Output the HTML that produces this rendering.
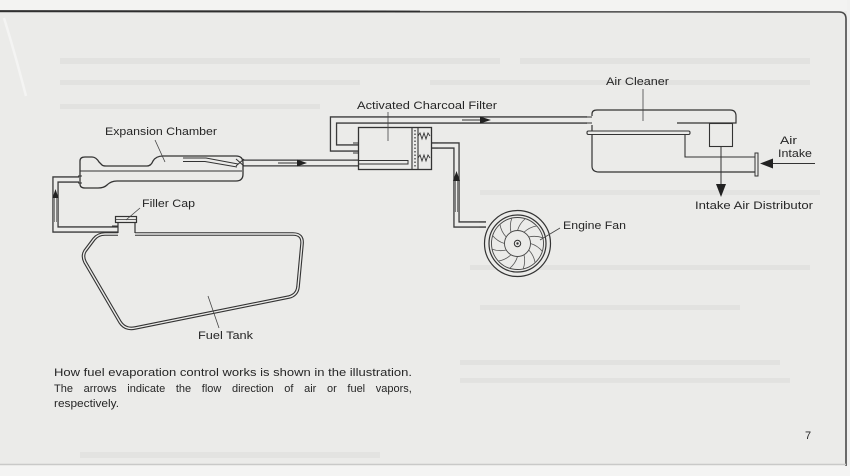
<!DOCTYPE html>
<html><head><meta charset="utf-8">
<style>
html,body{margin:0;padding:0;background:#ebebe9;}
svg{display:block;}
text{font-family:"Liberation Sans",Arial,sans-serif;fill:#262626;}
</style></head>
<body>
<svg width="850" height="476" viewBox="0 0 850 476" xmlns="http://www.w3.org/2000/svg">
<!-- paper -->
<rect x="0" y="0" width="850" height="476" fill="#ebebe9"/>
<rect x="0" y="0" width="850" height="11" fill="#f3f3f2"/>
<rect x="847" y="0" width="3" height="476" fill="#f1f1f0"/>
<rect x="0" y="465" width="850" height="11" fill="#f4f4f3"/>
<!-- faint show-through bands -->
<g fill="#000" opacity="0.03">
<rect x="60" y="58" width="440" height="6"/>
<rect x="520" y="58" width="290" height="6"/>
<rect x="60" y="80" width="300" height="5"/>
<rect x="430" y="80" width="380" height="5"/>
<rect x="60" y="104" width="260" height="5"/>
<rect x="480" y="190" width="340" height="5"/>
<rect x="470" y="265" width="340" height="5"/>
<rect x="480" y="305" width="260" height="5"/>
<rect x="460" y="360" width="320" height="5"/>
<rect x="460" y="378" width="330" height="5"/>
<rect x="80" y="452" width="300" height="6"/>
</g>
<path d="M4,18 Q14,50 26,96" stroke="#f4f4f3" stroke-width="2.5" fill="none"/>
<!-- page edges -->
<path d="M0,11.5 L839,12 Q846,12 846,19 L846,466" stroke="#4a4a4a" stroke-width="1.6" fill="none"/>
<path d="M0,11 L420,11.5" stroke="#2e2e2e" stroke-width="1.8"/>
<path d="M0,464.5 L846,464.5" stroke="#c9c9c8" stroke-width="1.6"/>

<g stroke-linecap="butt" stroke-linejoin="miter" fill="none">
<!-- left pipe chamber to filler -->
<path d="M79,179.5 L55.5,179.5 L55.5,229.5 L118,229.5" stroke="#3a3a3a" stroke-width="6.4"/>
<path d="M79,179.5 L55.5,179.5 L55.5,229.5 L118,229.5" stroke="#ebebe9" stroke-width="3.8"/>
<!-- chamber to filter -->
<path d="M242,163 L359,163" stroke="#3a3a3a" stroke-width="7"/>
<path d="M242,163 L359,163" stroke="#ebebe9" stroke-width="4.4"/>
<!-- top loop -->
<path d="M359,148 L333.5,148 L333.5,120 L587,120" stroke="#3a3a3a" stroke-width="7.4"/>
<path d="M359,148 L333.5,148 L333.5,120 L587,120" stroke="#ebebe9" stroke-width="4.8"/>
<!-- right pipe to fan -->
<path d="M431,145.5 L456.5,145.5 L456.5,224.5 L486,224.5" stroke="#3a3a3a" stroke-width="6.4"/>
<path d="M431,145.5 L456.5,145.5 L456.5,224.5 L486,224.5" stroke="#ebebe9" stroke-width="3.8"/>

<!-- expansion chamber -->
<path d="M80,177 L80,161 Q80,157 85,157 L92,157 Q96,157 99,162 L102,165 Q103,166 106,166 L147,166 Q151,166 153,161 Q156,156 163,156 L236,156 Q243,156 243,163 L243,174 Q243,181 236,181 L117,181 Q111,181 107,185 Q104,188 98,188 L85,188 Q80,188 80,184 Z" stroke="#333" stroke-width="1.3" fill="#ebebe9"/>
<path d="M80,171 L242,171" stroke="#333" stroke-width="1.1"/>
<path d="M78,176 L82,176 M78,183 L82,183" stroke="#333" stroke-width="1.1"/>
<path d="M183,158 L206,158 L238,164 M183,161.5 L205,161.5 L237,167" stroke="#333" stroke-width="1"/>
<path d="M236,159 L244,166 M236,166 L244,159" stroke="#333" stroke-width="1"/>

<!-- filler cap and neck -->
<rect x="115.5" y="216.5" width="21" height="6" stroke="#333" stroke-width="1.2" fill="#ebebe9"/>
<path d="M116,219.5 L136,219.5" stroke="#333" stroke-width="0.8"/>
<path d="M118,223 L118,233 M135,223 L135,233" stroke="#333" stroke-width="1.2"/>
<path d="M112,226 L118,226" stroke="#333" stroke-width="1"/>

<!-- fuel tank -->
<path d="M118,234 L105,234 Q98,234 94,239 L85,251 Q82,256 85,262 L120,322 Q125,330 135,328 L289,297 Q297,295 298,287 L302,244 Q303,234 293,234 L135,234" stroke="#333" stroke-width="3.6"/>
<path d="M118,234 L105,234 Q98,234 94,239 L85,251 Q82,256 85,262 L120,322 Q125,330 135,328 L289,297 Q297,295 298,287 L302,244 Q303,234 293,234 L135,234" stroke="#ebebe9" stroke-width="1.4"/>

<!-- charcoal filter -->
<rect x="358.5" y="127.5" width="73" height="42" stroke="#333" stroke-width="1.3" fill="#ebebe9"/>
<path d="M412,128 L412,169 M418,128 L418,169" stroke="#333" stroke-width="1.1"/>
<path d="M415,130 L415,168" stroke="#555" stroke-width="1.5" stroke-dasharray="1.5 2"/>
<path d="M418,136 L420,133 L422,139 L424,133 L426,139 L428,133 L430,136" stroke="#333" stroke-width="0.9"/>
<path d="M418,158 L420,155 L422,161 L424,155 L426,161 L428,155 L430,158" stroke="#333" stroke-width="0.9"/>
<path d="M359,160.5 L408,160.5 L408,164 L359,164" stroke="#333" stroke-width="1"/>
<path d="M353,143 L359,143 M353,153 L359,153 M353,160 L359,160 M353,166 L359,166" stroke="#333" stroke-width="1"/>
<path d="M431,143 L438,143 M431,148 L438,148" stroke="#333" stroke-width="1"/>

<!-- engine fan -->
<circle cx="517.5" cy="243.5" r="33" stroke="#333" stroke-width="1.2" fill="#ebebe9"/>
<circle cx="517.5" cy="243.5" r="28.5" stroke="#333" stroke-width="1.2"/>
<circle cx="517.5" cy="243.5" r="26" stroke="#444" stroke-width="0.9"/>
<circle cx="517.5" cy="243.5" r="13" stroke="#444" stroke-width="0.9"/>
<circle cx="517.5" cy="243.5" r="3.2" stroke="#333" stroke-width="1"/>
<circle cx="517.5" cy="243.5" r="1.2" fill="#333"/>
<g transform="translate(517.5,243.5)" stroke="#555" stroke-width="0.8">
<path d="M13,0 Q20,2 25,8" transform="rotate(0)"/>
<path d="M13,0 Q20,2 25,8" transform="rotate(30)"/>
<path d="M13,0 Q20,2 25,8" transform="rotate(60)"/>
<path d="M13,0 Q20,2 25,8" transform="rotate(90)"/>
<path d="M13,0 Q20,2 25,8" transform="rotate(120)"/>
<path d="M13,0 Q20,2 25,8" transform="rotate(150)"/>
<path d="M13,0 Q20,2 25,8" transform="rotate(180)"/>
<path d="M13,0 Q20,2 25,8" transform="rotate(210)"/>
<path d="M13,0 Q20,2 25,8" transform="rotate(240)"/>
<path d="M13,0 Q20,2 25,8" transform="rotate(270)"/>
<path d="M13,0 Q20,2 25,8" transform="rotate(300)"/>
<path d="M13,0 Q20,2 25,8" transform="rotate(330)"/>
</g>
<path d="M479,222 L486,222 M479,227 L486,227" stroke="#333" stroke-width="1"/>

<!-- air cleaner -->
<path d="M592,116 L592,114 Q592,110 597,110 L730,110 Q736,110 736,116 L736,123 L677,123" stroke="#333" stroke-width="1.2"/>
<path d="M592,125 L592,166 Q592,172 599,172 L755,172" stroke="#333" stroke-width="1.2"/>
<path d="M586,117 L592,117 M586,123 L592,123" stroke="#333" stroke-width="1"/>
<rect x="587" y="131" width="103" height="3.5" rx="1.5" stroke="#333" stroke-width="1.1" fill="#ebebe9"/>
<path d="M685,134.5 L685,157 L755,157" stroke="#333" stroke-width="1.1"/>
<rect x="709.5" y="123.5" width="23" height="23" stroke="#333" stroke-width="1.1" fill="#ebebe9"/>
<rect x="755" y="153" width="3" height="23" stroke="#333" stroke-width="1" fill="#ebebe9"/>
<path d="M815,163.5 L771,163.5" stroke="#333" stroke-width="1"/>
<path d="M760,163.5 L773,158.5 L773,168.5 Z" fill="#222"/>
<path d="M721,146 L721,186" stroke="#333" stroke-width="1"/>
<path d="M721,197 L716,184 L726,184 Z" fill="#222"/>
</g>

<!-- flow arrows in pipes -->
<path d="M278,163 L298,163" stroke="#333" stroke-width="0.9"/>
<path d="M307,163 L297,159.5 L297,166.5 Z" fill="#222"/>
<path d="M462,120 L480,120" stroke="#333" stroke-width="0.9"/>
<path d="M491,120 L480,116.5 L480,123.5 Z" fill="#222"/>
<path d="M456.5,171 L453,181 L460,181 Z" fill="#222"/>
<path d="M455.3,181 L455.3,212 M457.7,181 L457.7,212" stroke="#444" stroke-width="0.7"/>
<path d="M55.5,189 L52.5,198 L58.5,198 Z" fill="#222"/>
<path d="M54.5,198 L54.5,222 M56.5,198 L56.5,222" stroke="#444" stroke-width="0.6"/>

<!-- leaders -->
<g stroke="#444" stroke-width="0.8" fill="none">
<path d="M155,140 L165,162"/>
<path d="M140,208 L126,220"/>
<path d="M208,296 L219,328"/>
<path d="M388,112 L388,141"/>
<path d="M643,89 L643,121"/>
<path d="M560,228 L540,240"/>
</g>

<!-- labels -->
<g font-size="11">
<text x="105" y="135" textLength="112" lengthAdjust="spacingAndGlyphs">Expansion Chamber</text>
<text x="142" y="207" textLength="53" lengthAdjust="spacingAndGlyphs">Filler Cap</text>
<text x="198" y="339" textLength="55" lengthAdjust="spacingAndGlyphs">Fuel Tank</text>
<text x="357" y="109" textLength="140" lengthAdjust="spacingAndGlyphs">Activated Charcoal Filter</text>
<text x="606" y="85" textLength="63" lengthAdjust="spacingAndGlyphs">Air Cleaner</text>
<text x="563" y="229" textLength="63" lengthAdjust="spacingAndGlyphs">Engine Fan</text>
<text x="780" y="144" textLength="17" lengthAdjust="spacingAndGlyphs">Air</text>
<text x="778" y="157" textLength="34" lengthAdjust="spacingAndGlyphs">Intake</text>
<text x="695" y="209" textLength="118" lengthAdjust="spacingAndGlyphs">Intake Air Distributor</text>
<text x="54" y="376" textLength="358" lengthAdjust="spacingAndGlyphs">How fuel evaporation control works is shown in the illustration.</text>
<text x="54" y="392" word-spacing="7.6">The arrows indicate the flow direction of air or fuel vapors,</text>
<text x="54" y="407" textLength="65" lengthAdjust="spacingAndGlyphs">respectively.</text>
<text x="805" y="439">7</text>
</g>
</svg>
</body></html>
